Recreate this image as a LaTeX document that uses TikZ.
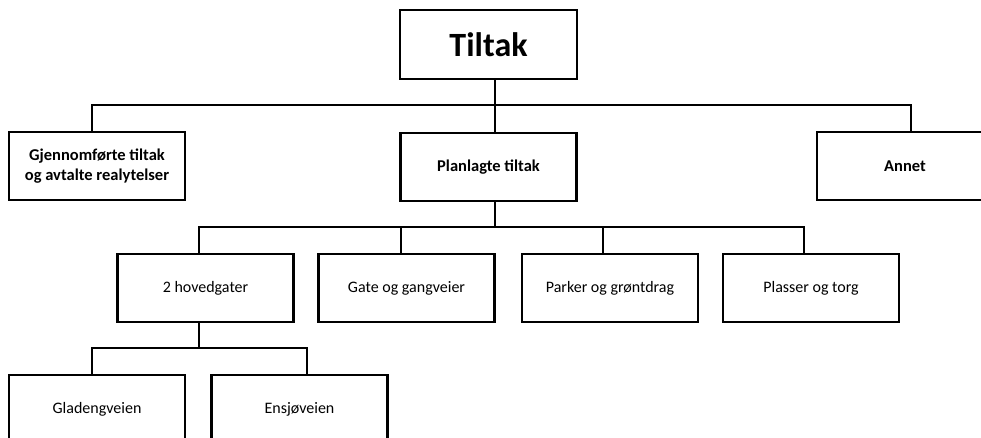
\documentclass[tikz,border=0pt]{standalone}
\usepackage{fontspec}
\setmainfont{Carlito}
\begin{document}
\begin{tikzpicture}[x=1pt,y=-1pt,
  box/.style={draw=black,line width=2.9pt,fill=white,minimum width=176pt,minimum height=68pt,inner sep=0pt,align=center,font=\fontsize{16}{20}\selectfont},
  boldbox/.style={box,font=\fontsize{16.5}{20}\selectfont\bfseries},
  conn/.style={draw=black,line width=2.9pt}]
\useasboundingbox (0,0) rectangle (981,437);
\clip (0,0) rectangle (981,437);
% bus coordinates
\coordinate (b1) at (495,105);
\coordinate (b2) at (495,227);
\coordinate (b3) at (199,348);
% nodes
\node[boldbox,minimum width=177pt,minimum height=69pt,font=\fontsize{34}{38}\selectfont\bfseries] (T) at (488.5,44.5) {Tiltak};
\node[boldbox] (G) at (97,166) {Gjennomførte tiltak\\og avtalte realytelser};
\node[boldbox] (P) at (488.5,167) {Planlagte tiltak};
\node[boldbox] (A) at (905,166) {Annet};
\node[box] (H) at (205.5,288) {2 hovedgater};
\node[box] (GG) at (406.5,288) {Gate og gangveier};
\node[box] (PG) at (610,288) {Parker og grøntdrag};
\node[box] (PT) at (811,288) {Plasser og torg};
\node[box] (GL) at (97,409) {Gladengveien};
\node[box] (EN) at (299.5,409) {Ensjøveien};
% connectors
\draw[conn] ([xshift=6.5pt]T.south) -- (b1);
\draw[conn] (b1) -| ([xshift=-5pt]G.north);
\draw[conn] (b1) -| ([xshift=6pt]A.north);
\draw[conn] (b1) -- ([xshift=6.5pt]P.north);
\draw[conn] ([xshift=6.5pt]P.south) -- (b2);
\draw[conn] (b2) -| ([xshift=-6.5pt]H.north);
\draw[conn] (b2) -| ([xshift=-5.5pt]GG.north);
\draw[conn] (b2) -| ([xshift=-7pt]PG.north);
\draw[conn] (b2) -| ([xshift=-7pt]PT.north);
\draw[conn] ([xshift=-6.5pt]H.south) -- (b3);
\draw[conn] (b3) -| ([xshift=-5pt]GL.north);
\draw[conn] (b3) -| ([xshift=7.5pt]EN.north);
\end{tikzpicture}
\end{document}
